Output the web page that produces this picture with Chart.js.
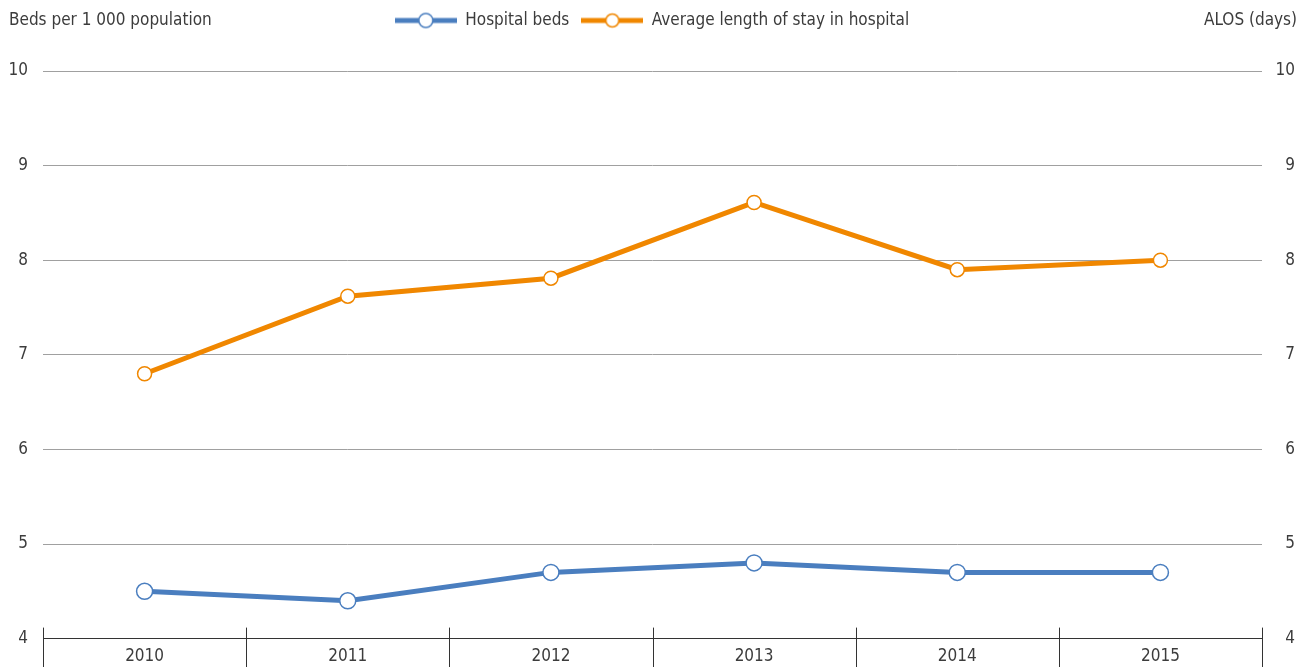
<!DOCTYPE html>
<html>
<head>
<meta charset="utf-8">
<script src="https://cdn.jsdelivr.net/npm/chart.js@4/dist/chart.umd.min.js"></script>
<style>
  html, body { margin: 0; padding: 0; background: #fff; overflow: hidden; }
  #wrap { position: absolute; left: 0; top: 0; width: 1307px; height: 667px; }
</style>
</head>
<body>
<div id="wrap"><canvas id="c"></canvas></div>
<script>
const years = ['2010', '2011', '2012', '2013', '2014', '2015'];
const hospitalBeds = [4.5, 4.4, 4.7, 4.8, 4.7, 4.7];
const alos = [6.8, 7.62, 7.81, 8.61, 7.9, 8.0];
const yTicks = [4, 5, 6, 7, 8, 9, 10];
const seriesNames = ['Hospital beds', 'Average length of stay in hospital'];
const leftTitle = 'Beds per 1 000 population';
const rightTitle = 'ALOS (days)';

const BLUE = '#4a7ebf';
const ORANGE = '#f08700';
const TEXT = '#3c3c3c';
const FONT = '"DejaVu Sans Condensed", "Liberation Sans Narrow", sans-serif';
const FS = 17;

function legendIcon(color, r) {
  const c = document.createElement('canvas');
  c.width = 62; c.height = 18;
  const g = c.getContext('2d');
  g.strokeStyle = color; g.lineWidth = 5;
  g.beginPath(); g.moveTo(0, 9); g.lineTo(62, 9); g.stroke();
  g.beginPath(); g.arc(31, 9, r, 0, Math.PI * 2);
  g.fillStyle = '#fff'; g.fill();
  g.lineWidth = 1.5; g.strokeStyle = color; g.stroke();
  return c;
}

const legendSpace = {
  id: 'legendSpace',
  beforeLayout(chart) {
    const lg = chart.legend;
    if (lg && !lg._extraWrapped) {
      const f = lg.fit;
      lg.fit = function () { f.call(this); this.height += 32; };
      lg._extraWrapped = true;
    }
  }
};

const extras = {
  id: 'extras',
  afterDraw(chart) {
    const ctx = chart.ctx;
    const x = chart.scales.x;
    const area = chart.chartArea;
    ctx.save();
    ctx.font = FS + 'px ' + FONT;
    ctx.fillStyle = TEXT;
    ctx.textBaseline = 'middle';
    ctx.textAlign = 'left';
    ctx.fillText(leftTitle, 9, 21);
    ctx.textAlign = 'right';
    ctx.fillText(rightTitle, 1297, 21);
    ctx.strokeStyle = '#333';
    ctx.lineWidth = 1;
    for (let i = 0; i <= years.length; i++) {
      const px = Math.round(x.getPixelForValue(i - 0.5)) + 0.5;
      ctx.beginPath();
      ctx.moveTo(px, area.bottom - 11);
      ctx.lineTo(px, area.bottom + 40);
      ctx.stroke();
    }
    ctx.restore();
  }
};

new Chart(document.getElementById('c'), {
  type: 'line',
  data: {
    labels: years,
    datasets: [
      {
        label: seriesNames[0], data: hospitalBeds, yAxisID: 'y',
        borderColor: BLUE, borderWidth: 5, tension: 0,
        pointRadius: 8, pointHoverRadius: 8, pointBackgroundColor: '#fff',
        pointBorderColor: BLUE, pointBorderWidth: 1.5,
        pointStyle: 'circle'
      },
      {
        label: seriesNames[1], data: alos, yAxisID: 'y1',
        borderColor: ORANGE, borderWidth: 5, tension: 0,
        pointRadius: 7, pointHoverRadius: 7, pointBackgroundColor: '#fff',
        pointBorderColor: ORANGE, pointBorderWidth: 1.5,
        pointStyle: 'circle'
      }
    ]
  },
  options: {
    responsive: true,
    maintainAspectRatio: false,
    animation: false,
    layout: { padding: { left: 9, right: 12, top: 0, bottom: 0 } },
    plugins: {
      tooltip: { enabled: false },
      legend: {
        display: true, position: 'top', align: 'center',
        labels: {
          usePointStyle: true,
          pointStyleWidth: 62,
          color: TEXT,
          font: { family: FONT, size: FS },
          padding: 12,
          generateLabels(chart) {
            return chart.data.datasets.map((d, i) => ({
              text: d.label,
              pointStyle: legendIcon(d.borderColor, i === 0 ? 7 : 6.5),
              fillStyle: d.borderColor, strokeStyle: d.borderColor,
              lineWidth: 0, hidden: false, datasetIndex: i, fontColor: TEXT
            }));
          }
        }
      }
    },
    scales: {
      x: {
        offset: true,
        grid: { display: false },
        border: { display: true, color: '#333', width: 1 },
        ticks: { color: TEXT, font: { family: FONT, size: FS }, padding: 0, maxRotation: 0 }
      },
      y: {
        position: 'left', min: 4, max: 10,
        afterBuildTicks(s) { s.ticks = yTicks.map(v => ({ value: v })); },
        afterFit(s) { s.width = 34; },
        grid: {
          drawTicks: false,
          color: (c) => (c.tick && c.tick.value === 4) ? 'rgba(0,0,0,0)' : '#a0a0a0',
          lineWidth: 1
        },
        border: { display: false },
        ticks: { color: TEXT, font: { family: FONT, size: FS }, padding: 15 }
      },
      y1: {
        position: 'right', min: 4, max: 10,
        afterBuildTicks(s) { s.ticks = yTicks.map(v => ({ value: v })); },
        afterFit(s) { s.width = 33; },
        grid: { display: false, drawTicks: false },
        border: { display: false },
        ticks: { color: TEXT, font: { family: FONT, size: FS }, padding: 12, crossAlign: 'far' }
      }
    }
  },
  plugins: [legendSpace, extras]
});
</script>
</body>
</html>
